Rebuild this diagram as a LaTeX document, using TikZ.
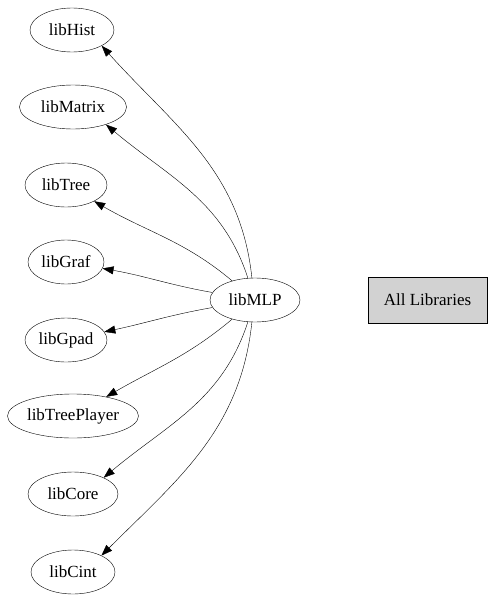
\documentclass[tikz,border=0pt]{standalone}
\usepackage{fontspec}
\setmainfont{Liberation Serif}
\usetikzlibrary{shapes.geometric,arrows.meta}
\tikzset{
  lib/.style={draw, ellipse, inner sep=0pt, minimum height=44pt, font=\fontsize{17}{19}\selectfont},
  dep/.style={-{Triangle[length=11pt,width=8pt]}, thin}
}
\begin{document}
\begin{tikzpicture}[x=1pt, y=-1pt]
        \useasboundingbox (0,0) rectangle (493,600);

        \node[lib, minimum width=84pt]  (hist)   at (72,30)   {libHist};
        \node[lib, minimum width=107pt] (matrix) at (73,107)  {libMatrix};
        \node[lib, minimum width=82pt]  (tree)   at (66,185)  {libTree};
        \node[lib, minimum width=76pt]  (graf)   at (66,262)  {libGraf};
        \node[lib, minimum width=82pt]  (gpad)   at (66,340)  {libGpad};
        \node[lib, minimum width=131pt] (player) at (73,416)  {libTreePlayer};
        \node[lib, minimum width=90pt]  (core)   at (73,494)  {libCore};
        \node[lib, minimum width=84pt]  (cint)   at (73,572)  {libCint};
        \node[lib, minimum width=90pt]  (mlp)    at (255,300) {libMLP};
        \node[draw, fill=lightgray!70, minimum width=119pt, minimum height=46pt,
              font=\fontsize{17}{19}\selectfont] (all) at (427.5,300) {All Libraries};

        \draw[dep] (mlp.98)  to[out=96, in=-48] (hist.-28);
        \draw[dep] (mlp.108) to[out=108, in=-40] (matrix.-28);
        \draw[dep] (mlp) to[out=140, in=-30] (tree);
        \draw[dep] (mlp) to[out=170, in=-10] (graf);
        \draw[dep] (mlp) to[out=190, in=12] (gpad);
        \draw[dep] (mlp) to[out=220, in=30] (player);
        \draw[dep] (mlp.-108) to[out=252, in=40] (core.28);
        \draw[dep] (mlp.-98)  to[out=264, in=45] (cint.30);
    \end{tikzpicture}
\end{document}
